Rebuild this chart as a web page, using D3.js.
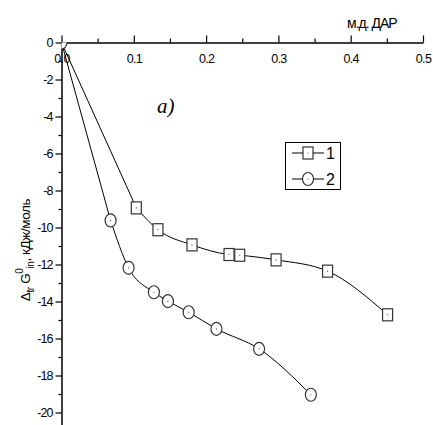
<!DOCTYPE html>
<html><head><meta charset="utf-8">
<script src="https://cdn.jsdelivr.net/npm/d3@7"></script>
<style>body{margin:0;background:#fff}svg{display:block}</style>
</head><body><svg id="c" width="433" height="425"></svg>
<script>
const xTicks = [0, 0.1, 0.2, 0.3, 0.4, 0.5];
const xMinor = [0.05, 0.15, 0.25, 0.35, 0.45];
const yTicks = [0, -2, -4, -6, -8, -10, -12, -14, -16, -18, -20];
const yMinor = [-1, -3, -5, -7, -9, -11, -13, -15, -17, -19, -21];
const s1x = [0, 0.1035, 0.1334, 0.1805, 0.2317, 0.2465, 0.2968, 0.368, 0.451];
const s1y = [0, -8.94, -10.12, -10.94, -11.46, -11.5, -11.75, -12.36, -14.72];
const s2x = [0, 0.0679, 0.0928, 0.1278, 0.1472, 0.1759, 0.2143, 0.2733, 0.3449];
const s2y = [0, -9.62, -12.18, -13.5, -13.98, -14.58, -15.48, -16.56, -19.04];
const legendLabels = ["1", "2"];

const SANS = "'Liberation Sans', Arial, sans-serif";
const svg = d3.select("#c");
const x = d3.scaleLinear([0, 0.5], [61.5, 423]);
const y = d3.scaleLinear([0, -21], [42.5, 431]);

svg.append("defs").append("clipPath").attr("id", "plot")
  .append("rect").attr("x", x(0)).attr("y", y(0)).attr("width", 400).attr("height", 400);

// x axis (top)
const gx = svg.append("g").attr("transform", `translate(0,${y(0)})`)
  .call(d3.axisTop(x).tickValues(xTicks).tickSize(7).tickSizeOuter(0).tickFormat(d3.format(".1f")));
gx.selectAll("text").attr("y", 12).attr("dy", "0.71em").style("font-family", SANS).style("font-size", "12.5px")
  .attr("letter-spacing", "-0.7").attr("fill", "#000");
svg.append("g").attr("transform", `translate(0,${y(0)})`)
  .call(d3.axisTop(x).tickValues(xMinor).tickSize(4).tickSizeOuter(0).tickFormat(""))
  .select(".domain").remove();

// y axis (left)
const gy = svg.append("g").attr("transform", `translate(${x(0)},0)`)
  .call(d3.axisLeft(y).tickValues(yTicks).tickSize(6).tickSizeOuter(0).tickFormat(d => String(d)));
gy.selectAll("text").attr("x", -9).style("font-family", SANS).style("font-size", "12.5px")
  .attr("letter-spacing", "-0.9").attr("fill", "#000");
svg.append("g").attr("transform", `translate(${x(0)},0)`)
  .call(d3.axisLeft(y).tickValues(yMinor).tickSize(3).tickSizeOuter(0).tickFormat(""))
  .select(".domain").remove();
svg.selectAll(".domain").attr("stroke-width", 1.5);
svg.selectAll(".tick line").attr("stroke-width", 1.2);

const d1 = s1x.map((v, i) => [v, s1y[i]]);
const d2 = s2x.map((v, i) => [v, s2y[i]]);
const straight = d3.line().x(d => x(d[0])).y(d => y(d[1]));
const smooth = d3.line().x(d => x(d[0])).y(d => y(d[1])).curve(d3.curveMonotoneX);
[d1, d2].forEach(d => {
  svg.append("path").attr("d", straight(d.slice(0, 2))).attr("fill", "none").attr("stroke", "#000").attr("stroke-width", 1);
  svg.append("path").attr("d", smooth(d.slice(1))).attr("fill", "none").attr("stroke", "#000").attr("stroke-width", 1);
});

function square(g, cx, cy) {
  g.append("rect").attr("x", cx - 5).attr("y", cy - 6).attr("width", 10).attr("height", 12)
    .attr("fill", "#fff").attr("stroke", "#333").attr("stroke-width", 1.2);
  g.append("circle").attr("cx", cx).attr("cy", cy).attr("r", 0.6).attr("fill", "#444");
}
function ellipse(g, cx, cy) {
  g.append("ellipse").attr("cx", cx).attr("cy", cy).attr("rx", 5.5).attr("ry", 6.5)
    .attr("fill", "#fff").attr("stroke", "#333").attr("stroke-width", 1.2);
  g.append("circle").attr("cx", cx).attr("cy", cy).attr("r", 0.6).attr("fill", "#444");
}
const gm = svg.append("g").attr("clip-path", "url(#plot)");
d1.slice(1).forEach(d => square(gm, x(d[0]), y(d[1])));
d2.forEach(d => ellipse(gm, x(d[0]), y(d[1])));

// legend
const lg = svg.append("g");
lg.append("rect").attr("x", 285.5).attr("y", 142.5).attr("width", 55).attr("height", 47)
  .attr("fill", "#fff").attr("stroke", "#000").attr("stroke-width", 1);
[153, 179].forEach((ly, i) => {
  lg.append("line").attr("x1", 292).attr("x2", 324).attr("y1", ly).attr("y2", ly).attr("stroke", "#000");
  if (i === 0) square(lg, 308, ly); else ellipse(lg, 308, ly);
  lg.append("text").attr("x", 326).attr("y", ly).attr("dy", "0.36em").style("font-family", SANS)
    .style("font-size", "16px").text(legendLabels[i]);
});

// annotations
svg.append("text").attr("x", 157).attr("y", 113).style("font-family", "'Liberation Serif', 'Times New Roman', serif")
  .style("font-size", "21px").style("font-style", "italic").text("a)");
svg.append("text").attr("x", 347).attr("y", 28).style("font-family", SANS).style("font-size", "14px")
  .attr("letter-spacing", "-1").text("м.д. ДАР");

const yl = svg.append("text").attr("transform", "translate(30,250) rotate(-90)").attr("text-anchor", "middle")
  .style("font-family", SANS).style("font-size", "13.5px").attr("letter-spacing", "-0.4");
yl.append("tspan").text("Δ");
yl.append("tspan").style("font-size", "10px").attr("dy", 4).text("tr");
yl.append("tspan").attr("dy", -4).text(" G");
yl.append("tspan").style("font-size", "10px").attr("dy", -7).text("0");
yl.append("tspan").style("font-size", "10px").attr("dy", 11).text("in");
yl.append("tspan").attr("dy", -4).text(", кДж/моль");
</script></body></html>
